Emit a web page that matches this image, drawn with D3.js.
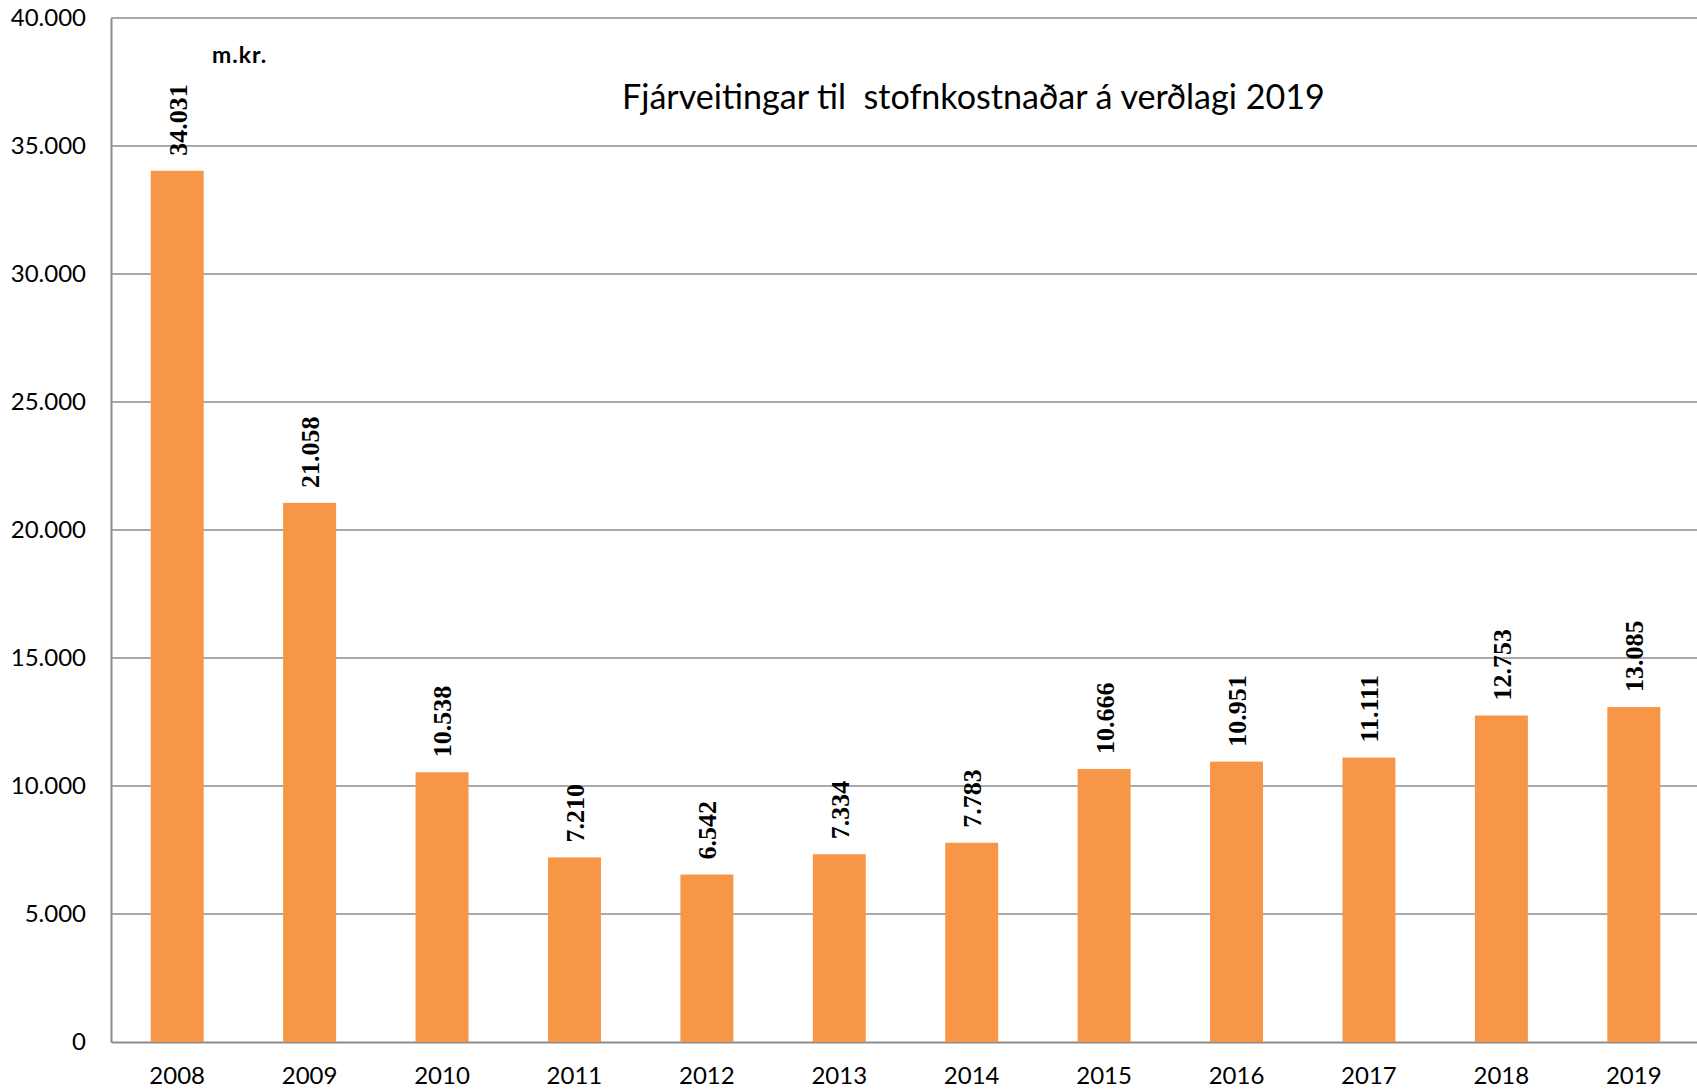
<!DOCTYPE html>
<html>
<head>
<meta charset="utf-8">
<script src="https://cdn.jsdelivr.net/npm/d3@7"></script>
<style>
  body { margin: 0; background: #fff; }
  svg { display: block; }
</style>
</head>
<body>
<div id="chart"></div>
<script>
// chart data
var years = ["2008", "2009", "2010", "2011", "2012", "2013", "2014", "2015", "2016", "2017", "2018", "2019"];
var values = [34031, 21058, 10538, 7210, 6542, 7334, 7783, 10666, 10951, 11111, 12753, 13085];
var yTicks = [0, 5000, 10000, 15000, 20000, 25000, 30000, 35000, 40000];
var chartTitle = "Fjárveitingar til  stofnkostnaðar á verðlagi 2019";
var unitLabel = "m.kr.";

var svgWidth = 1697;
var svgHeight = 1091;

var margin = { top: 18, right: -3, bottom: 49, left: 111 };
var width = svgWidth - margin.left - margin.right;
var height = svgHeight - margin.top - margin.bottom;

// Icelandic number format: dot as thousands separator
var fmt = function(v) {
  return d3.format(",")(v).replace(/,/g, ".");
};

var svg = d3.select("#chart")
  .append("svg")
  .attr("width", svgWidth)
  .attr("height", svgHeight);

var g = svg.append("g")
  .attr("transform", `translate(${margin.left}, ${margin.top})`);

var x = d3.scaleBand()
  .domain(years)
  .range([0, width])
  .paddingInner(0.6)
  .paddingOuter(0.3);

var y = d3.scaleLinear()
  .domain([0, 40000])
  .range([height, 0]);

// gridlines
g.append("g")
  .selectAll("line")
  .data(yTicks.filter(d => d > 0))
  .enter()
  .append("line")
  .attr("x1", 0)
  .attr("x2", width)
  .attr("y1", d => y(d))
  .attr("y2", d => y(d))
  .attr("stroke", "#8c8c8c")
  .attr("stroke-width", 1.6);

// y axis
var leftAxis = d3.axisLeft(y)
  .tickValues(yTicks)
  .tickSize(0)
  .tickPadding(25)
  .tickFormat(fmt);

var yAxis = g.append("g").call(leftAxis);
yAxis.select(".domain").attr("stroke", "#8c8c8c").attr("stroke-width", 2);
yAxis.selectAll("text")
  .attr("font-family", "Lato, sans-serif")
  .attr("font-size", "24px")
  .attr("fill", "#000");

// x axis
var bottomAxis = d3.axisBottom(x)
  .tickSize(0)
  .tickPadding(25);

var xAxis = g.append("g")
  .attr("transform", `translate(0, ${height})`)
  .call(bottomAxis);
xAxis.select(".domain").attr("stroke", "#8c8c8c").attr("stroke-width", 2);
xAxis.selectAll("text")
  .attr("font-family", "Lato, sans-serif")
  .attr("font-size", "24px")
  .attr("fill", "#000");

// bars
g.selectAll("rect.bar")
  .data(values)
  .enter()
  .append("rect")
  .attr("class", "bar")
  .attr("x", (d, i) => x(years[i]))
  .attr("y", d => y(d))
  .attr("width", x.bandwidth())
  .attr("height", d => height - y(d))
  .attr("fill", "#F79646");

// value labels, rotated
g.selectAll("text.val")
  .data(values)
  .enter()
  .append("text")
  .attr("class", "val")
  .attr("transform", (d, i) =>
    `translate(${x(years[i]) + x.bandwidth() / 2}, ${y(d) - 15}) rotate(-90)`)
  .attr("dy", "0.36em")
  .attr("text-anchor", "start")
  .attr("font-family", "'Liberation Serif', 'Times New Roman', serif")
  .attr("font-weight", "bold")
  .attr("font-size", "26px")
  .attr("fill", "#000")
  .text(d => fmt(d));

// unit label
svg.append("text")
  .attr("x", 212)
  .attr("y", 63)
  .attr("font-family", "Lato, sans-serif")
  .attr("font-weight", "bold")
  .attr("font-size", "23px")
  .attr("letter-spacing", "1px")
  .attr("fill", "#000")
  .text(unitLabel);

// title, sized to the width it takes in the original
var title = svg.append("text")
  .attr("x", 622)
  .attr("y", 109)
  .attr("font-family", "Lato, sans-serif")
  .attr("font-size", "30px")
  .attr("fill", "#000")
  .attr("xml:space", "preserve")
  .style("white-space", "pre")
  .text(chartTitle);

var tw = title.node().getComputedTextLength();
title.attr("font-size", (30 * 703 / tw).toFixed(1) + "px");
</script>
</body>
</html>
